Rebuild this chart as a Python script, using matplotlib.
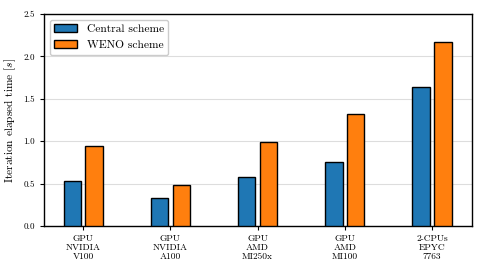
import matplotlib
matplotlib.use("Agg")
import matplotlib.pyplot as plt
import numpy as np

categories = ["GPU\nNVIDIA\nV100", "GPU\nNVIDIA\nA100", "GPU\nAMD\nMI250x", "GPU\nAMD\nMI100", "2-CPUs\nEPYC\n7763"]
central = [0.535, 0.33, 0.578, 0.75, 1.645]
weno = [0.947, 0.48, 0.995, 1.325, 2.17]

plt.rcParams['font.family'] = ['cmr10', 'DejaVu Serif']
plt.rcParams['mathtext.fontset'] = 'cm'
plt.rcParams['axes.formatter.use_mathtext'] = True

fig = plt.figure(figsize=(4.82, 2.71), dpi=100)
ax = fig.add_axes([44/482, 1-226/271, (472-44)/482, (226-14)/271])

x = np.arange(len(categories))
w = 0.2
ax.bar(x - 0.125, central, w, color='#1f77b4', edgecolor='black', linewidth=1.0, label='Central scheme', zorder=3)
ax.bar(x + 0.125, weno, w, color='#ff7f0e', edgecolor='black', linewidth=1.0, label='WENO scheme', zorder=3)

ax.set_xticks(x)
ax.set_xticklabels(categories, fontsize=6.8, linespacing=1.05)
ax.set_ylim(0, 2.5)
ax.set_yticks([0.0, 0.5, 1.0, 1.5, 2.0, 2.5])
ax.set_yticklabels(["0.0", "0.5", "1.0", "1.5", "2.0", "2.5"], fontsize=6.5)
ax.set_xlim(-0.45, 4.46)
ax.set_ylabel("Iteration elapsed time [$s$]", fontsize=8.2)
ax.yaxis.grid(True, color='#dddddd', linewidth=0.8, zorder=0)
ax.set_axisbelow(True)
for s in ax.spines.values():
    s.set_linewidth(1.0)
ax.tick_params(length=3, width=0.8)
ax.legend(loc='upper left', fontsize=8.3, frameon=True, fancybox=True, edgecolor='#cccccc', framealpha=1)

fig.savefig("out.png", dpi=100)
